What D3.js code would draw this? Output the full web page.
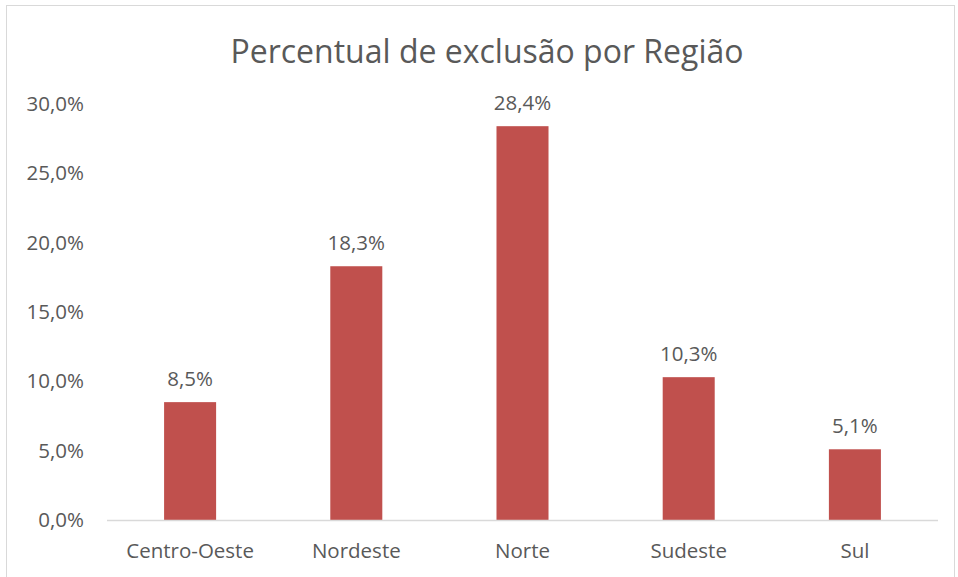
<html>
<head>
<meta charset="utf-8">
<script src="https://d3js.org/d3.v7.min.js"></script>
<style>
body { margin: 0; background: #fff; }
svg text { font-family: 'Open Sans', Calibri, sans-serif; fill: #595959; }
</style>
</head>
<body>
<div id="chart"></div>
<script>
// dados
var regioes = ["Centro-Oeste", "Nordeste", "Norte", "Sudeste", "Sul"];
var valores = [8.5, 18.3, 28.4, 10.3, 5.1];
var ticksY = [0, 5, 10, 15, 20, 25, 30];
var titulo = "Percentual de exclusão por Região";

var W = 958, H = 577;
var margin = {left: 107, right: 20, top: 104, bottom: 57};
var fs = "20.5px";

var svg = d3.select("#chart").append("svg")
  .attr("width", W).attr("height", H);

// moldura do gráfico
svg.append("rect")
  .attr("x", 6.5).attr("y", 5.5)
  .attr("width", 948).attr("height", 600)
  .attr("fill", "none").attr("stroke", "#d9d9d9");

var x = d3.scaleBand()
  .domain(regioes)
  .range([margin.left, W - margin.right])
  .paddingInner(0.687).paddingOuter(0.3435);

var y = d3.scaleLinear()
  .domain([0, 30])
  .range([H - margin.bottom, margin.top]);

var fmt = function(v) { return d3.format(".1f")(v).replace(".", ",") + "%"; };

// eixo Y (somente rótulos)
var yAxis = svg.append("g")
  .attr("transform", "translate(" + (margin.left - 16) + ",0)")
  .call(d3.axisLeft(y).tickValues(ticksY).tickFormat(fmt).tickSize(0).tickPadding(7));
yAxis.select(".domain").remove();
yAxis.selectAll("text").style("font-size", fs);

// barras
svg.selectAll(".bar")
  .data(valores)
  .enter().append("rect")
  .attr("class", "bar")
  .attr("x", function(d, i) { return x(regioes[i]); })
  .attr("y", function(d) { return y(d); })
  .attr("width", x.bandwidth())
  .attr("height", function(d) { return y(0) - y(d); })
  .attr("fill", "#C0504D");

// linha base
svg.append("line")
  .attr("x1", margin.left).attr("x2", W - margin.right)
  .attr("y1", y(0) + 0.5).attr("y2", y(0) + 0.5)
  .attr("stroke", "#d9d9d9").attr("stroke-width", 1.5);

// eixo X
var xAxis = svg.append("g")
  .attr("transform", "translate(0," + y(0) + ")")
  .call(d3.axisBottom(x).tickSize(0).tickPadding(23));
xAxis.select(".domain").remove();
xAxis.selectAll("text").style("font-size", fs);

// rótulos de dados
svg.selectAll(".rotulo")
  .data(valores)
  .enter().append("text")
  .attr("class", "rotulo")
  .attr("x", function(d, i) { return x(regioes[i]) + x.bandwidth() / 2; })
  .attr("y", function(d) { return y(d) - 16; })
  .attr("text-anchor", "middle")
  .style("font-size", fs)
  .text(fmt);

// título
svg.append("text")
  .attr("x", 487).attr("y", 63)
  .attr("text-anchor", "middle")
  .style("font-size", "32px")
  .text(titulo);
</script>
</body>
</html>
